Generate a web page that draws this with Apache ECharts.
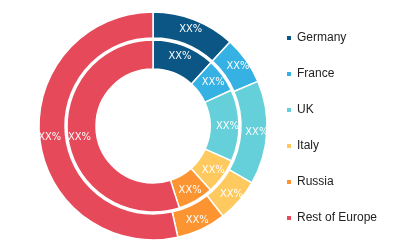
<!DOCTYPE html>
<html>
<head>
<meta charset="utf-8">
<script src="https://cdn.jsdelivr.net/npm/echarts@6/dist/echarts.min.js"></script>
<style>
html,body{margin:0;padding:0;background:#fff;}
#main{width:415px;height:244px;}
</style>
</head>
<body>
<div id="main"></div>
<script>
var categories = ['Germany', 'France', 'UK', 'Italy', 'Russia', 'Rest of Europe'];
var outerValues = [11.8, 6.8, 14.7, 6.2, 7.0, 53.5];
var innerValues = [11.8, 6.4, 13.5, 6.7, 6.7, 55.0];
var sliceLabel = 'XX%';
var colors = ['#0b5684', '#36b1e3', '#65d0da', '#fec95e', '#fc9531', '#e5495a'];

function toData(vals) {
  return categories.map(function (c, i) { return { name: c, value: vals[i] }; });
}

var chart = echarts.init(document.getElementById('main'), null, { renderer: 'canvas' });
var common = {
  type: 'pie',
  center: [153, 126],
  startAngle: 90,
  clockwise: true,
  avoidLabelOverlap: false,
  animation: false,
  emphasis: { disabled: true },
  itemStyle: { borderColor: '#ffffff', borderWidth: 1.5 },
  label: {
    show: true,
    position: 'inside',
    formatter: function () { return sliceLabel; },
    color: '#ffffff',
    fontSize: 11,
    fontFamily: 'DejaVu Sans Condensed, Liberation Sans Narrow, sans-serif'
  },
  labelLine: { show: false }
};

chart.setOption({
  color: colors,
  animation: false,
  legend: {
    orient: 'vertical',
    left: 280,
    top: 27,
    icon: 'rect',
    itemWidth: 6,
    itemHeight: 6,
    itemGap: 24,
    selectedMode: false,
    data: categories,
    textStyle: { color: '#222222', fontSize: 12, fontFamily: 'Liberation Sans, Arial, sans-serif' }
  },
  series: [
    Object.assign({}, common, { name: 'outer', radius: [88, 114], data: toData(outerValues) }),
    Object.assign({}, common, { name: 'inner', radius: [57, 86], data: toData(innerValues) })
  ]
});
</script>
</body>
</html>
